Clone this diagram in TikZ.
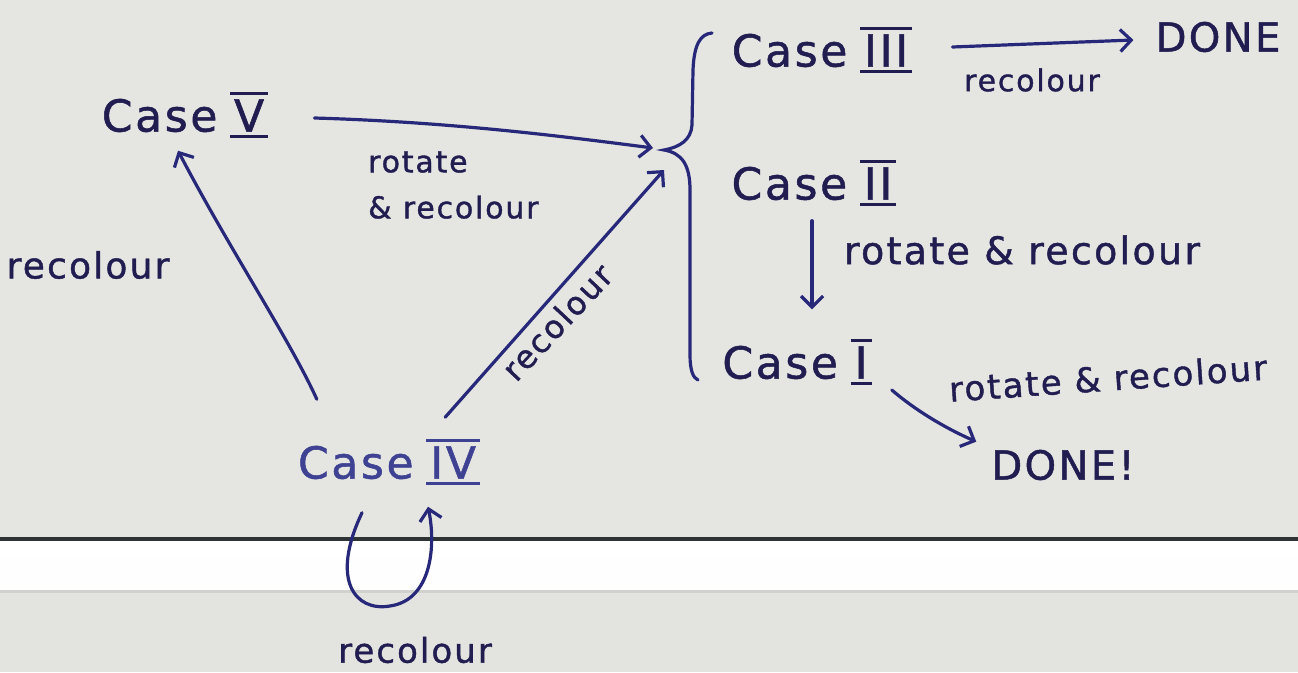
\documentclass[tikz,border=0pt]{standalone}
\usepackage{fontspec}
\setmainfont{DejaVu Sans}[LetterSpace=6,FakeBold=1.2]
\usetikzlibrary{arrows.meta}
\definecolor{ink}{HTML}{211D50}
\definecolor{inkiv}{HTML}{3F4292}
\definecolor{pen}{HTML}{28287A}
\definecolor{paper}{HTML}{E5E6E2}
\definecolor{paperlow}{HTML}{E3E3DF}
\definecolor{edge}{HTML}{2E3335}
% roman numeral with a bar above and below
\newcommand\rnum[1]{\setbox0\hbox{#1}\leavevmode
  \rlap{\hspace{-4pt}\raisebox{\dimexpr\ht0+4pt\relax}{\rule{\dimexpr\wd0+8pt\relax}{3pt}}}%
  \rlap{\hspace{-4pt}\raisebox{-6pt}{\rule{\dimexpr\wd0+8pt\relax}{3pt}}}%
  \box0}
\tikzset{
  case/.style={text=ink,inner sep=0pt,font=\fontsize{44}{50}\selectfont},
  done/.style={text=ink,inner sep=0pt,font=\fontsize{40}{46}\selectfont},
  lab/.style={text=ink,inner sep=0pt},
  conn/.style={draw=pen,line width=3.2pt,line cap=round,line join=round,
    -{Straight Barb[length=11pt,width=22pt,line width=3.2pt]}},
  penline/.style={draw=pen,line width=3.2pt,line cap=round}
}
\begin{document}
\begin{tikzpicture}[x=1pt,y=-1pt]
\useasboundingbox (0,0) rectangle (1298,672);
% sheet and the strip below it
\fill[paper] (0,0) rectangle (1298,538);
\fill[edge] (0,537) rectangle (1298,541);
\shade[top color=white,bottom color=white!94!paper] (0,541) rectangle (1298,590);
\fill[paper!80!gray] (0,590) rectangle (1298,593);
\fill[paperlow] (0,593) rectangle (1298,672);

% cases
\node[case] (c5) at (183,115) {Case \rnum{V}};
\node[case] (c3) at (820,50) {Case \rnum{III}};
\node[case] (c2) at (812,183) {Case \rnum{II}};
\node[case] (c1) at (795,362) {Case \rnum{I}};
\node[case,text=inkiv] (c4) at (387,462) {Case \rnum{IV}};
\node[done] (d3) at (1218,37) {DONE};
\node[done] (d1) at (1063,465) {DONE!};

% brace grouping cases III, II and I
\coordinate (brace) at (664,150);
\coordinate (bin1) at (653,148);
\coordinate (bin2) at (664,170);
\draw[penline] (712,33) .. controls (700,34) and (694,45) .. (693,70) -- (692,125)
  .. controls (691,140) and (680,147) .. (brace)
  .. controls (682,153) and (690,165) .. (690,190) -- (690,355)
  .. controls (690,370) and (693,378) .. (698,380);

% connectors
\draw[conn] ([shift={(50,3)}]c5.east) .. controls (450,122) and (560,136) .. (bin1);
\draw[conn] ([shift={(-31,-22)}]c4.north east) -- (bin2);
\draw[conn] ([shift={(19,-40)}]c4.north west) .. controls (290,340) and (230,250) .. ([shift={(-5,13)}]c5.south);
\draw[conn] ([shift={(-25,28)}]c4.south) .. controls (330,580) and (355,612) .. (390,606)
  .. controls (432,600) and (436,545) .. ([shift={(41,22)}]c4.south);
\draw[conn] ([shift={(44,-3)}]c3.east) -- ([shift={(-22,3)}]d3.west);
\draw[conn] ([yshift=-15pt]c2.south) -- ([yshift=30pt]c2.south |- c1.north);
\draw[conn] ([shift={(24,28)}]c1.east) .. controls (915,410) and (945,428) .. ([shift={(-15,-8)}]d1.north west);

% labels
\node[lab,font=\fontsize{36}{40}\selectfont] (l1) at (88,265) {recolour};
\node[lab,font=\fontsize{30}{46}\selectfont,align=left,anchor=west] (l2) at (368,185) {rotate\\\& recolour};
\node[lab,font=\fontsize{32}{36}\selectfont,rotate=47] (l3) at (557,322) {recolour};
\node[lab,font=\fontsize{30}{36}\selectfont] (l4) at (1032,80) {recolour};
\node[lab,font=\fontsize{38}{44}\selectfont] (l5) at (1022,250) {rotate \& recolour};
\node[lab,font=\fontsize{34}{40}\selectfont,rotate=4] (l6) at (1108,378) {rotate \& recolour};
\node[lab,font=\fontsize{34}{40}\selectfont] (l7) at (415,650) {recolour};
\end{tikzpicture}
\end{document}
